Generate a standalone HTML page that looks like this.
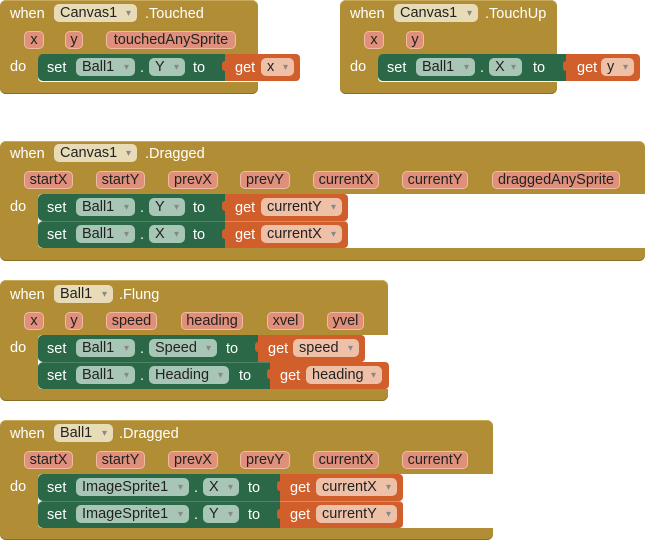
<!DOCTYPE html>
<html><head><meta charset="utf-8"><style>
body{margin:0;width:645px;height:541px;background:#fff;position:relative;overflow:hidden;font-family:"Liberation Sans",sans-serif;font-size:14.5px}
div{position:absolute;box-sizing:border-box}
.g{background:#B18E35;border-radius:6px;box-shadow:inset 0 1px 0 #c9a95a,inset 0 -1px 0 #8a6d25}
.w{background:#fff;border-radius:4px 0 0 4px}
.gr{background:#2A6847;border-radius:5px 0 0 5px;height:27px}
.or{background:#D15F2C;height:27px;border-radius:0 4px 4px 0}
.or::before{content:"";position:absolute;left:-3px;top:7px;width:6px;height:10px;background:#D15F2C;border-radius:3px 0 0 3px}
.t{color:#fff;height:18px;line-height:20px;white-space:nowrap}
.d{height:18px;line-height:19px;border-radius:5px;color:#222;padding-left:6px;white-space:nowrap}
.d::after{content:"▾";position:absolute;right:6px;top:0;font-size:10px;color:#888}
.dg{background:#E8DCB8}.dn{background:#A8C6B5}.do{background:#EFC0A8}
.p{height:18px;line-height:17px;border-radius:5px;background:#E0907A;border:1px solid #EFBBA5;color:#222;text-align:center;white-space:nowrap}
</style></head><body>

<!-- Block 1 -->
<div class="g" style="left:0;top:0;width:258px;height:94px"></div>
<div class="w" style="left:38px;top:55px;width:220px;height:27px"></div>
<div class="t" style="left:10px;top:4px">when</div>
<div class="d dg" style="left:54px;top:4px;width:83px">Canvas1</div>
<div class="t" style="left:145px;top:4px">.Touched</div>
<div class="p" style="left:24px;top:31px;width:20px">x</div>
<div class="p" style="left:65px;top:31px;width:18px">y</div>
<div class="p" style="left:106px;top:31px;width:130px">touchedAnySprite</div>
<div class="t" style="left:10px;top:57px">do</div>
<div class="gr" style="left:38px;top:54px;width:188px"></div>
<div class="t" style="left:47px;top:58px">set</div>
<div class="d dn" style="left:76px;top:58px;width:59px">Ball1</div>
<div class="t" style="left:140px;top:58px">.</div>
<div class="d dn" style="left:149px;top:58px;width:36px">Y</div>
<div class="t" style="left:193px;top:58px">to</div>
<div class="or" style="left:225px;top:54px;width:75px"></div>
<div class="t" style="left:235px;top:58px">get</div>
<div class="d do" style="left:261px;top:58px;width:33px">x</div>

<!-- Block 2 -->
<div class="g" style="left:340px;top:0;width:217px;height:94px"></div>
<div class="w" style="left:378px;top:55px;width:179px;height:27px"></div>
<div class="t" style="left:350px;top:4px">when</div>
<div class="d dg" style="left:394px;top:4px;width:84px">Canvas1</div>
<div class="t" style="left:485px;top:4px">.TouchUp</div>
<div class="p" style="left:364px;top:31px;width:20px">x</div>
<div class="p" style="left:406px;top:31px;width:18px">y</div>
<div class="t" style="left:350px;top:57px">do</div>
<div class="gr" style="left:378px;top:54px;width:188px"></div>
<div class="t" style="left:387px;top:58px">set</div>
<div class="d dn" style="left:416px;top:58px;width:59px">Ball1</div>
<div class="t" style="left:480px;top:58px">.</div>
<div class="d dn" style="left:489px;top:58px;width:33px">X</div>
<div class="t" style="left:533px;top:58px">to</div>
<div class="or" style="left:566px;top:54px;width:74px"></div>
<div class="t" style="left:577px;top:58px">get</div>
<div class="d do" style="left:601px;top:58px;width:33px">y</div>

<!-- Block 3 -->
<div class="g" style="left:0;top:141px;width:645px;height:120px"></div>
<div class="w" style="left:38px;top:194px;width:607px;height:54px"></div>
<div class="t" style="left:10px;top:144px">when</div>
<div class="d dg" style="left:54px;top:144px;width:83px">Canvas1</div>
<div class="t" style="left:145px;top:144px">.Dragged</div>
<div class="p" style="left:24px;top:171px;width:49px">startX</div>
<div class="p" style="left:96px;top:171px;width:49px">startY</div>
<div class="p" style="left:168px;top:171px;width:50px">prevX</div>
<div class="p" style="left:240px;top:171px;width:50px">prevY</div>
<div class="p" style="left:313px;top:171px;width:66px">currentX</div>
<div class="p" style="left:402px;top:171px;width:66px">currentY</div>
<div class="p" style="left:492px;top:171px;width:128px">draggedAnySprite</div>
<div class="t" style="left:10px;top:197px">do</div>
<div class="gr" style="left:38px;top:194px;width:188px"></div>
<div class="gr" style="left:38px;top:221px;width:188px;border-top:1px solid #4e8569"></div>
<div class="t" style="left:47px;top:198px">set</div>
<div class="d dn" style="left:76px;top:198px;width:59px">Ball1</div>
<div class="t" style="left:140px;top:198px">.</div>
<div class="d dn" style="left:149px;top:198px;width:36px">Y</div>
<div class="t" style="left:193px;top:198px">to</div>
<div class="or" style="left:225px;top:194px;width:123px"></div>
<div class="t" style="left:235px;top:198px">get</div>
<div class="d do" style="left:261px;top:198px;width:81px">currentY</div>
<div class="t" style="left:47px;top:225px">set</div>
<div class="d dn" style="left:76px;top:225px;width:59px">Ball1</div>
<div class="t" style="left:140px;top:225px">.</div>
<div class="d dn" style="left:149px;top:225px;width:36px">X</div>
<div class="t" style="left:193px;top:225px">to</div>
<div class="or" style="left:225px;top:221px;width:123px;border-top:1px solid #e08a60"></div>
<div class="t" style="left:235px;top:225px">get</div>
<div class="d do" style="left:261px;top:225px;width:81px">currentX</div>

<!-- Block 4 -->
<div class="g" style="left:0;top:280px;width:388px;height:121px"></div>
<div class="w" style="left:38px;top:335px;width:350px;height:54px"></div>
<div class="t" style="left:10px;top:285px">when</div>
<div class="d dg" style="left:54px;top:285px;width:59px">Ball1</div>
<div class="t" style="left:119px;top:285px">.Flung</div>
<div class="p" style="left:24px;top:312px;width:20px">x</div>
<div class="p" style="left:65px;top:312px;width:18px">y</div>
<div class="p" style="left:106px;top:312px;width:51px">speed</div>
<div class="p" style="left:181px;top:312px;width:62px">heading</div>
<div class="p" style="left:267px;top:312px;width:37px">xvel</div>
<div class="p" style="left:327px;top:312px;width:37px">yvel</div>
<div class="t" style="left:10px;top:338px">do</div>
<div class="gr" style="left:38px;top:335px;width:220px"></div>
<div class="gr" style="left:38px;top:362px;width:232px;border-top:1px solid #4e8569"></div>
<div class="t" style="left:47px;top:339px">set</div>
<div class="d dn" style="left:76px;top:339px;width:59px">Ball1</div>
<div class="t" style="left:140px;top:339px">.</div>
<div class="d dn" style="left:149px;top:339px;width:68px">Speed</div>
<div class="t" style="left:226px;top:339px">to</div>
<div class="or" style="left:258px;top:335px;width:107px"></div>
<div class="t" style="left:268px;top:339px">get</div>
<div class="d do" style="left:293px;top:339px;width:66px">speed</div>
<div class="t" style="left:47px;top:366px">set</div>
<div class="d dn" style="left:76px;top:366px;width:59px">Ball1</div>
<div class="t" style="left:140px;top:366px">.</div>
<div class="d dn" style="left:149px;top:366px;width:80px">Heading</div>
<div class="t" style="left:239px;top:366px">to</div>
<div class="or" style="left:270px;top:362px;width:119px"></div>
<div class="t" style="left:280px;top:366px">get</div>
<div class="d do" style="left:306px;top:366px;width:76px">heading</div>

<!-- Block 5 -->
<div class="g" style="left:0;top:420px;width:493px;height:120px"></div>
<div class="w" style="left:38px;top:474px;width:455px;height:54px"></div>
<div class="t" style="left:10px;top:424px">when</div>
<div class="d dg" style="left:54px;top:424px;width:59px">Ball1</div>
<div class="t" style="left:119px;top:424px">.Dragged</div>
<div class="p" style="left:24px;top:451px;width:49px">startX</div>
<div class="p" style="left:96px;top:451px;width:49px">startY</div>
<div class="p" style="left:168px;top:451px;width:50px">prevX</div>
<div class="p" style="left:240px;top:451px;width:50px">prevY</div>
<div class="p" style="left:313px;top:451px;width:66px">currentX</div>
<div class="p" style="left:402px;top:451px;width:66px">currentY</div>
<div class="t" style="left:10px;top:477px">do</div>
<div class="gr" style="left:38px;top:474px;width:242px"></div>
<div class="gr" style="left:38px;top:501px;width:242px;border-top:1px solid #4e8569"></div>
<div class="t" style="left:47px;top:478px">set</div>
<div class="d dn" style="left:76px;top:478px;width:113px">ImageSprite1</div>
<div class="t" style="left:194px;top:478px">.</div>
<div class="d dn" style="left:203px;top:478px;width:36px">X</div>
<div class="t" style="left:248px;top:478px">to</div>
<div class="or" style="left:280px;top:474px;width:123px"></div>
<div class="t" style="left:290px;top:478px">get</div>
<div class="d do" style="left:316px;top:478px;width:81px">currentX</div>
<div class="t" style="left:47px;top:505px">set</div>
<div class="d dn" style="left:76px;top:505px;width:113px">ImageSprite1</div>
<div class="t" style="left:194px;top:505px">.</div>
<div class="d dn" style="left:203px;top:505px;width:36px">Y</div>
<div class="t" style="left:248px;top:505px">to</div>
<div class="or" style="left:280px;top:501px;width:123px;border-top:1px solid #e08a60"></div>
<div class="t" style="left:290px;top:505px">get</div>
<div class="d do" style="left:316px;top:505px;width:81px">currentY</div>

</body></html>
